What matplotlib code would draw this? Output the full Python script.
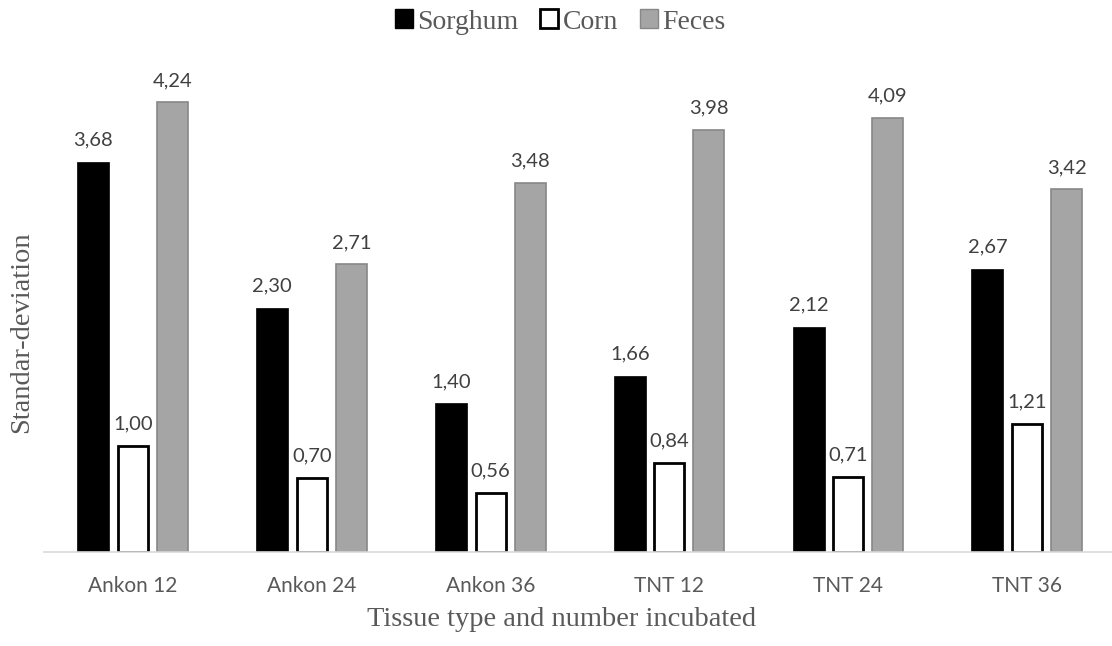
import matplotlib
matplotlib.use("Agg")
import matplotlib.pyplot as plt
import numpy as np
from matplotlib.patches import Patch

categories = ["Ankon 12", "Ankon 24", "Ankon 36", "TNT 12", "TNT 24", "TNT 36"]
sorghum = [3.68, 2.30, 1.40, 1.66, 2.12, 2.67]
corn = [1.00, 0.70, 0.56, 0.84, 0.71, 1.21]
feces = [4.24, 2.71, 3.48, 3.98, 4.09, 3.42]
value_labels = lambda v: f"{v:.2f}".replace(".", ",")

W, H = 1112, 646
fig = plt.figure(figsize=(W / 100, H / 100), dpi=100)
left_px, right_px, bottom_px, top_px = 43.6, 1116.4, 552, 74.5
ax = fig.add_axes([left_px / W, 1 - bottom_px / H, (right_px - left_px) / W, (bottom_px - top_px) / H])

x = np.arange(len(categories))
bw = 0.179
pitch = 0.221
serif = ["Liberation Serif", "DejaVu Serif"]
sans = ["Lato", "DejaVu Sans"]

b1 = ax.bar(x - pitch, sorghum, bw, color="black", edgecolor="black", linewidth=0.5, zorder=3)
b2 = ax.bar(x, corn, bw - 0.012, color="white", edgecolor="black", linewidth=2.0, zorder=3)
b3 = ax.bar(x + pitch, feces, bw - 0.006, color="#A5A5A5", edgecolor="#878787", linewidth=1.2, zorder=3)

for bars, vals in ((b1, sorghum), (b2, corn), (b3, feces)):
    for rect, v in zip(bars, vals):
        ax.annotate(value_labels(v), (rect.get_x() + rect.get_width() / 2, v),
                    xytext=(0, 9.5), textcoords="offset points", ha="center", va="bottom",
                    fontsize=14.5, color="#404040", family=sans)

ax.set_xlim(-0.5, 5.5)
ax.set_ylim(0, 4.5)
ax.set_yticks([])
ax.set_xticks(x)
ax.set_xticklabels(categories, fontsize=15, color="#595959", family=sans)
ax.tick_params(axis="x", length=0, pad=17)
for s in ("top", "right", "left"):
    ax.spines[s].set_visible(False)
ax.spines["bottom"].set_color("#D9D9D9")
ax.spines["bottom"].set_linewidth(1.2)
ax.spines["bottom"].set_zorder(4)

fig.text(22 / W, 1 - 332 / H, "Standar-deviation", rotation=90, ha="center", va="center",
         fontsize=20.5, color="#595959", family=serif)
fig.text(562 / W, 1 - 619 / H, "Tissue type and number incubated", ha="center", va="center",
         fontsize=20.5, color="#595959", family=serif)

handles = [Patch(facecolor="black", edgecolor="black"),
           Patch(facecolor="white", edgecolor="black", linewidth=2),
           Patch(facecolor="#A5A5A5", edgecolor="#878787")]
leg = fig.legend(handles, ["Sorghum", "Corn", "Feces"], loc="center", bbox_to_anchor=(560 / W, 1 - 22 / H),
                 ncol=3, frameon=False, prop={"family": serif, "size": 20},
                 handlelength=0.65, handleheight=0.65, handletextpad=0.15, columnspacing=0.8)
for t in leg.get_texts():
    t.set_color("#595959")

fig.savefig("out.png", dpi=100)
